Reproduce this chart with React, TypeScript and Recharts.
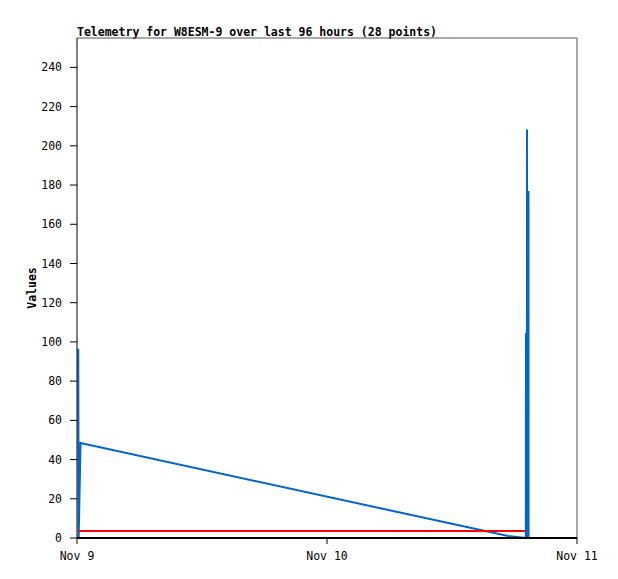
import { LineChart, Line, XAxis, YAxis, ReferenceLine } from "recharts";

// hours since Nov 9 00:00
const telemetry = [
  { h: 0.12, v: 96.5 },
  { h: 0.16, v: 0 },
  { h: 0.34, v: 48.4 },
  { h: 41.4, v: 1 },
  { h: 43.09, v: 0 },
  { h: 43.1, v: 104.5 },
  { h: 43.11, v: 0 },
  { h: 43.19, v: 0 },
  { h: 43.2, v: 208.3 },
  { h: 43.21, v: 0 },
  { h: 43.33, v: 0 },
  { h: 43.34, v: 177 },
  { h: 43.35, v: 0 },
];

const baseline = [
  { h: 0.18, v: 3.6 },
  { h: 43.0, v: 3.6 },
];

const xTicks = [0, 24, 48];
const xTickLabels = ["Nov 9", "Nov 10", "Nov 11"];
const yTicks = [0, 20, 40, 60, 80, 100, 120, 140, 160, 180, 200, 220, 240];

const font = "'DejaVu Sans Mono', 'Liberation Mono', monospace";

const YLabel = ({ viewBox }: any) => {
  const x = viewBox.x + 15;
  const y = viewBox.y + viewBox.height / 2;
  return (
    <text
      x={x}
      y={y}
      transform={`rotate(-90, ${x}, ${y})`}
      textAnchor="middle"
      dominantBaseline="central"
      fontFamily={font}
      fontSize={11.5}
      fontWeight="bold"
      fill="#000"
    >
      Values
    </text>
  );
};

export default function App() {
  return (
    <div style={{ position: "relative", width: 600, height: 560 }}>
      <div
        style={{
          position: "absolute",
          left: 69,
          top: 18,
          fontFamily: font,
          fontSize: 11.5,
          fontWeight: "bold",
          lineHeight: "13px",
          whiteSpace: "nowrap",
        }}
      >
        Telemetry for W8ESM-9 over last 96 hours (28 points)
      </div>
      <LineChart
        width={600}
        height={560}
        margin={{ top: 30, right: 31, left: 9, bottom: 0 }}
      >
        <XAxis
          dataKey="h"
          type="number"
          domain={[0, 48]}
          ticks={xTicks}
          interval={0}
          tickFormatter={(t) => xTickLabels[xTicks.indexOf(t)]}
          height={30}
          tickSize={6}
          tickMargin={8}
          axisLine={{ stroke: "#000", strokeWidth: 2 }}
          tickLine={{ stroke: "#000" }}
          tick={{ fill: "#000", fontFamily: font, fontSize: 11.5 }}
        />
        <YAxis
          type="number"
          domain={[0, 255]}
          ticks={yTicks}
          interval={0}
          width={60}
          tickSize={7}
          tickMargin={8}
          axisLine={{ stroke: "#000" }}
          tickLine={{ stroke: "#000" }}
          tick={{ fill: "#000", fontFamily: font, fontSize: 11.5 }}
          label={<YLabel />}
        />
        <ReferenceLine y={255} stroke="#555" />
        <ReferenceLine x={48} stroke="#555" />
        <Line
          data={telemetry}
          dataKey="v"
          type="linear"
          stroke="#0066cc"
          strokeWidth={2}
          dot={false}
          isAnimationActive={false}
        />
        <Line
          data={baseline}
          dataKey="v"
          type="linear"
          stroke="#ff0000"
          strokeWidth={2}
          dot={false}
          isAnimationActive={false}
        />
      </LineChart>
    </div>
  );
}
